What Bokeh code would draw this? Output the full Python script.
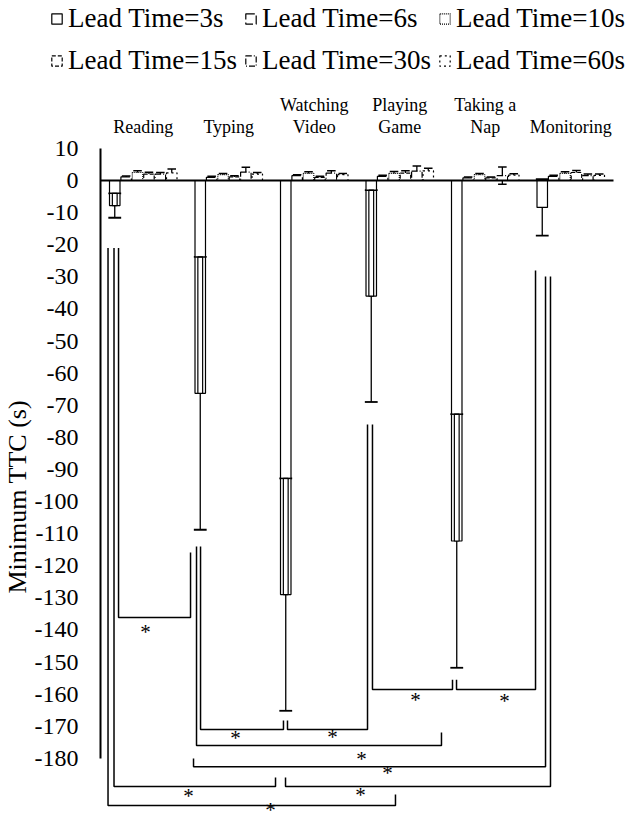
from bokeh.plotting import figure
from bokeh.models import Legend, LegendItem, Title, FixedTicker, Range1d
from bokeh.core.properties import value
from bokeh.embed import file_html
from bokeh.resources import INLINE

# ---------------- data ----------------
activities = ["Reading", "Typing", "Watching\nVideo", "Playing\nGame", "Taking a\nNap", "Monitoring"]
lead_labels = ["Lead Time=3s", "Lead Time=6s", "Lead Time=10s",
               "Lead Time=15s", "Lead Time=30s", "Lead Time=60s"]

mean_3s = [-7.8, -66.3, -129.0, -36.0, -112.3, -8.4]
sd_3s = [3.8, 42.5, 36.2, 33.0, 39.5, 8.8]
mean_6s = [1.1, 1.0, 1.5, 1.3, 0.8, 1.3]
sd_6s = [0.3, 0.3, 0.3, 0.3, 0.3, 0.3]
mean_10s = [2.5, 1.8, 2.2, 2.2, 1.8, 2.2]
sd_10s = [0.5, 0.4, 0.5, 0.6, 0.4, 0.5]
mean_15s = [2.0, 1.1, 1.0, 2.3, 0.8, 2.5]
sd_15s = [0.6, 0.4, 0.3, 0.7, 0.3, 0.6]
mean_30s = [2.0, 2.6, 2.3, 2.9, 1.5, 1.5]
sd_30s = [0.5, 1.5, 0.7, 1.6, 2.7, 0.5]
mean_60s = [2.4, 2.0, 1.8, 3.0, 1.7, 1.6]
sd_60s = [1.2, 0.5, 0.4, 0.8, 0.4, 0.4]

y_ticks = [10, 0, -10, -20, -30, -40, -50, -60, -70, -80, -90,
           -100, -110, -120, -130, -140, -150, -160, -170, -180]
y_tick_labels = [str(t) for t in y_ticks]

means = [mean_3s, mean_6s, mean_10s, mean_15s, mean_30s, mean_60s]
sds = [sd_3s, sd_6s, sd_10s, sd_15s, sd_30s, sd_60s]
dashes = ["solid", "9 3", "1 1", "4 2", "6 2 1 2", "2 3"]
FONT = "Liberation Serif"

# ---------------- main figure ----------------
PX_X = 85.5   # px per group
PX_Y = 3.21   # px per second
W = 629
LEG_H = 90
H = 822 - LEG_H
LEFT = 100
x_end = (W - LEFT) / PX_X
y_top = (180 - LEG_H) / PX_Y
y_bot = y_top - H / PX_Y

p = figure(width=W, height=H, x_range=Range1d(0, x_end), y_range=Range1d(y_bot, y_top),
           output_backend="svg", toolbar_location=None, x_axis_location=None,
           min_border_left=LEFT, min_border_right=0, min_border_top=0, min_border_bottom=0)
p.grid.visible = False
p.outline_line_color = None

ax = p.yaxis[0]
ax.ticker = FixedTicker(ticks=y_ticks)
ax.major_label_overrides = dict(zip(y_ticks, y_tick_labels))
ax.bounds = (-180, 10)
ax.major_tick_out = 0
ax.major_tick_in = 0
ax.minor_tick_out = 0
ax.minor_tick_in = 0
ax.axis_line_width = 2
ax.axis_line_color = "black"
ax.major_label_text_font = FONT
ax.major_label_text_font_size = "24px"
ax.major_label_text_color = "black"
ax.major_label_standoff = 22

p.add_layout(Title(text="Minimum TTC (s)", align="left", offset=229, standoff=0,
                   text_font=FONT, text_font_size="26px", text_font_style="normal",
                   text_color="black"), "left")

n_groups = len(activities)
bw = 0.8 / 6

# error bars (behind bars)
for j in range(6):
    xs = [i + 0.5 + (j - 2.5) * bw for i in range(n_groups)]
    lo = [m - s for m, s in zip(means[j], sds[j])]
    hi = [m + s for m, s in zip(means[j], sds[j])]
    cw = 0.075 if j == 0 else 0.05
    lw = 1.8 if j == 0 else 1.5
    p.segment(x0=xs, y0=lo, x1=xs, y1=hi, line_color="black", line_width=1.3)
    p.segment(x0=[x - cw for x in xs], y0=lo, x1=[x + cw for x in xs], y1=lo,
              line_color="black", line_width=lw)
    p.segment(x0=[x - cw for x in xs], y0=hi, x1=[x + cw for x in xs], y1=hi,
              line_color="black", line_width=lw)

# bars
for j in range(6):
    xs = [i + 0.5 + (j - 2.5) * bw for i in range(n_groups)]
    p.vbar(x=xs, top=means[j], bottom=0, width=bw * 0.92, fill_color="white",
           line_color="black", line_width=1.2, line_dash=dashes[j])

# inner SD box of the large negative bars
xs0 = [i + 0.5 - 2.5 * bw for i in range(n_groups)]
bx, bt, bb = [], [], []
for x, m, s in zip(xs0, mean_3s, sd_3s):
    if m + s < 0:
        bx.append(x); bt.append(m + s); bb.append(m)
p.quad(left=[x - 0.028 for x in bx], right=[x + 0.028 for x in bx], top=bt, bottom=bb,
       fill_color="white", line_color="black", line_width=1.2)
p.segment(x0=[x - 0.062 for x in bx], y0=bt, x1=[x + 0.062 for x in bx], y1=bt,
          line_color="black", line_width=1.5)

# zero line
p.segment(x0=[0], y0=[0], x1=[n_groups], y1=[0], line_color="black", line_width=2)

# category labels
p.text(x=[i + 0.5 for i in range(n_groups)], y=[13.7] * n_groups, text=activities,
       text_align="center", text_baseline="bottom", text_font=value(FONT),
       text_font_size="18px", text_color="black", text_line_height=1.1)

# significance brackets: (x_left, y_left_top, x_right, y_right_top, level, star_x, star_y)
brackets = [
    (0.211, -21, 1.053, -115.9, -136.1, 0.526, -140.8),
    (0.158, -21, 2.047, -186.0, -188.8, 1.029, -191.6),
    (2.164, -186.0, 5.263, -29.9, -188.8, 3.041, -191.3),
    (0.088, -21, 3.450, -191.3, -194.7, 1.988, -196.0),
    (1.088, -180.1, 5.205, -29.9, -182.6, 3.357, -184.7),
    (1.123, -114, 3.988, -172.0, -176.0, 3.053, -180.1),
    (1.170, -114, 2.140, -168.2, -171.0, 1.579, -173.8),
    (2.187, -168.2, 3.123, -76, -171.0, 2.713, -173.5),
    (3.181, -76, 4.117, -155.5, -158.6, 3.684, -161.7),
    (4.164, -155.5, 5.088, -28, -158.6, 4.725, -162.3),
]
p.multi_line(xs=[[b[0], b[0], b[2], b[2]] for b in brackets],
             ys=[[b[1], b[4], b[4], b[3]] for b in brackets],
             line_color="black", line_width=1.5)
p.text(x=[b[5] for b in brackets], y=[b[6] for b in brackets], text=["*"] * len(brackets),
       text_align="center", text_baseline="middle", text_font=value(FONT),
       text_font_size="21px", text_color="black")

# ---------------- legend strip (separate root, full width) ----------------
lp = figure(width=W, height=LEG_H, x_range=Range1d(0, W), y_range=Range1d(0, LEG_H),
            output_backend="svg", toolbar_location=None, x_axis_location=None,
            y_axis_location=None, min_border=0)
lp.grid.visible = False
lp.outline_line_color = None
leg_rs = []
for j in range(6):
    leg_rs.append(lp.vbar(x=[-1000], top=[0], bottom=[-1], width=1, fill_color="white",
                          line_color="black", line_width=1.2, line_dash=dashes[j]))

legend = Legend(items=[LegendItem(label=lead_labels[k], renderers=[leg_rs[k]]) for k in range(6)],
                location=(50, 12), orientation="horizontal", ncols=3, spacing=7,
                glyph_width=13, glyph_height=13, label_standoff=5, label_height=35,
                padding=0, margin=0, border_line_color=None, background_fill_alpha=0,
                label_text_font=FONT, label_text_font_size="27px", label_text_color="black")
lp.add_layout(legend)

open("out.html", "w").write(file_html([lp, p], INLINE))
